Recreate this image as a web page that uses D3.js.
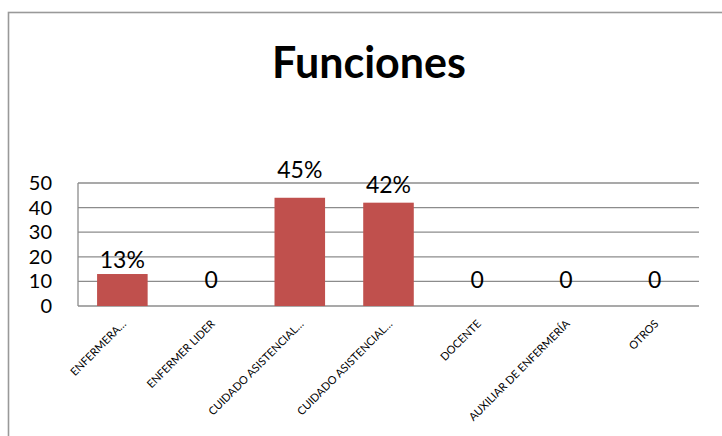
<!DOCTYPE html>
<html>
<head>
<meta charset="utf-8">
<script src="https://cdn.jsdelivr.net/npm/d3@7"></script>
<style>
  body { margin: 0; background: #fff; }
  text { font-family: Lato, "Open Sans", sans-serif; fill: #000; }
</style>
</head>
<body>
<div id="chart"></div>
<script>
'use strict';

var categories = ['ENFERMERA…', 'ENFERMER LIDER', 'CUIDADO ASISTENCIAL…', 'CUIDADO ASISTENCIAL…',
                  'DOCENTE', 'AUXILIAR DE ENFERMERÍA', 'OTROS'];
var values = [13, 0, 44, 42, 0, 0, 0];
var valueLabels = ['13%', '0', '45%', '42%', '0', '0', '0'];
var yTicks = [0, 10, 20, 30, 40, 50];

// label lift above bar top (px), excel labels were nudged by hand
var labelGap = [6, 18, 20, 10, 18, 18, 18];

var width = 722, height = 436;
var plot = {x0: 78, x1: 699, y0: 183, y1: 306};

var svg = d3.select('#chart').append('svg')
    .attr('width', width)
    .attr('height', height);

// chart frame
svg.append('rect')
    .attr('x', 8.5)
    .attr('y', 12.5)
    .attr('width', 740)
    .attr('height', 460)
    .style('fill', '#fff')
    .style('stroke', '#999')
    .style('stroke-width', 1.6);

svg.append('text')
    .attr('x', 369)
    .attr('y', 78)
    .attr('text-anchor', 'middle')
    .style('font-size', '43px')
    .style('font-weight', 'bold')
    .text('Funciones');

var x = d3.scaleBand()
    .domain(d3.range(categories.length))
    .range([plot.x0, plot.x1])
    .paddingInner(0.43)
    .paddingOuter(0.215);

var y = d3.scaleLinear()
    .domain([0, 50])
    .range([plot.y1, plot.y0]);

// gridlines
svg.append('g')
  .selectAll('line')
  .data(yTicks)
  .enter().append('line')
    .attr('x1', plot.x0)
    .attr('x2', plot.x1)
    .attr('y1', function(d) { return y(d); })
    .attr('y2', function(d) { return y(d); })
    .style('stroke', '#8c8c8c')
    .style('stroke-width', 1.3);

svg.append('line')
    .attr('x1', plot.x0)
    .attr('x2', plot.x0)
    .attr('y1', y(50))
    .attr('y2', y(0))
    .style('stroke', '#8c8c8c')
    .style('stroke-width', 1.3);

// y tick labels
var yAxis = d3.axisLeft(y).tickValues(yTicks).tickSize(0).tickPadding(26);
svg.append('g')
    .attr('transform', 'translate(' + plot.x0 + ',0)')
    .call(yAxis)
    .call(function(g) { g.select('.domain').remove(); })
    .selectAll('text')
    .style('font-family', 'Lato, sans-serif')
    .style('font-size', '20px')
    .style('fill', '#000');

// bars
svg.append('g')
  .selectAll('rect')
  .data(values)
  .enter().append('rect')
    .attr('x', function(d, i) { return x(i); })
    .attr('y', function(d) { return y(d); })
    .attr('width', x.bandwidth())
    .attr('height', function(d) { return y(0) - y(d); })
    .style('fill', '#C0504D');

// value labels
svg.append('g')
  .selectAll('text')
  .data(values)
  .enter().append('text')
    .attr('x', function(d, i) { return x(i) + x.bandwidth() / 2; })
    .attr('y', function(d, i) { return y(d) - labelGap[i]; })
    .attr('text-anchor', 'middle')
    .style('font-size', '23px')
    .text(function(d, i) { return valueLabels[i]; });

// rotated category labels
svg.append('g')
  .selectAll('text')
  .data(categories)
  .enter().append('text')
    .attr('transform', function(d, i) {
      var cx = x(i) + x.bandwidth() / 2;
      return 'translate(' + (cx - 1) + ',319) rotate(-45)';
    })
    .attr('dy', '0.72em')
    .attr('text-anchor', 'end')
    .style('font-size', '11px')
    .text(function(d) { return d; });
</script>
</body>
</html>
